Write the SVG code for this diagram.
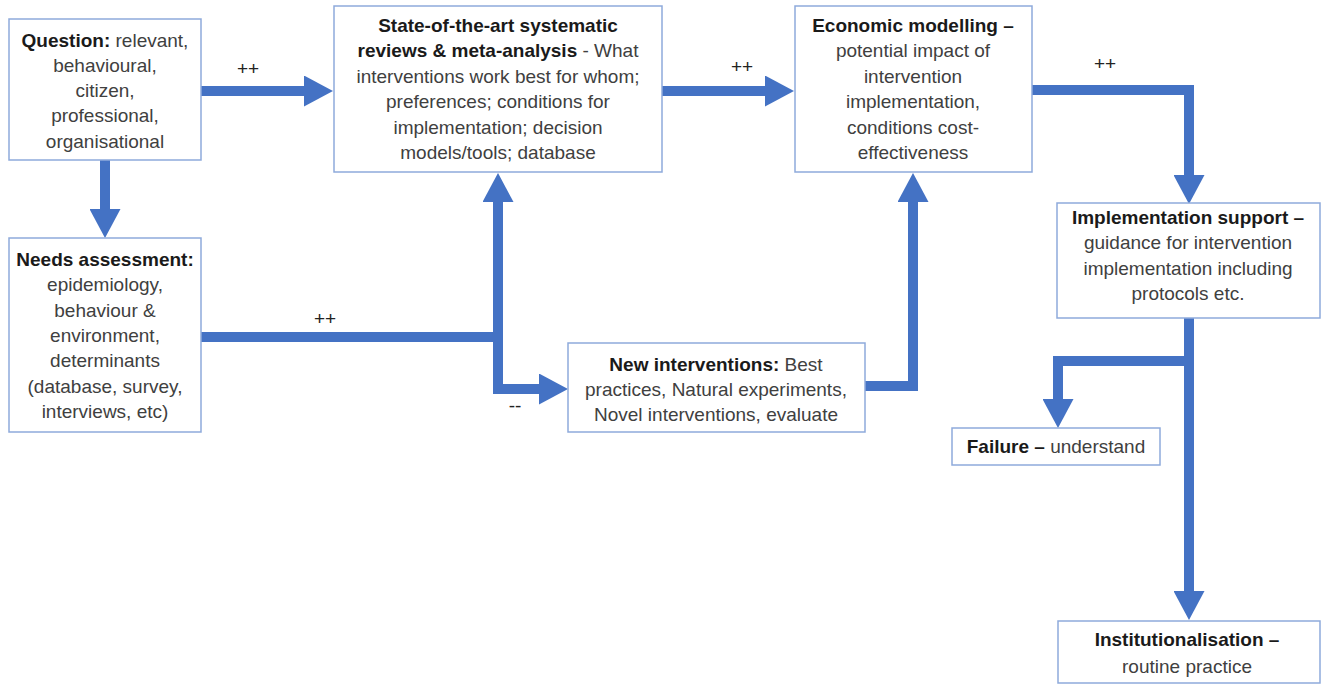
<svg xmlns="http://www.w3.org/2000/svg" width="1321" height="685" viewBox="0 0 1321 685">
<style>
.box{fill:#ffffff;stroke:#8eaadb;stroke-width:1.5}
.t{font-family:"Liberation Sans",Arial,sans-serif;font-size:19px;fill:#404040;text-anchor:middle}
.b{font-weight:bold;fill:#1a1a1a}
.lbl{font-family:"Liberation Sans",Arial,sans-serif;font-size:19px;fill:#222;text-anchor:middle}
.c{fill:none;stroke:#4472c4;stroke-width:10;stroke-linejoin:miter;marker-end:url(#ah)}
</style>
<defs>
<marker id="ah" markerUnits="userSpaceOnUse" viewBox="0 0 29 31" markerWidth="29" markerHeight="31" refX="0" refY="15.5" orient="auto-start-reverse">
<path d="M0,0 L29,15.5 L0,31 Z" fill="#4472c4"/>
</marker>
</defs>
<rect width="1321" height="685" fill="#ffffff"/>
<g id="connectors">
<path class="c" d="M201,91 H304"/>
<path class="c" d="M105,160 V209"/>
<path class="c" d="M662,91 H765"/>
<path class="c" d="M1032,90 H1189 V175"/>
<path class="c" d="M201,337 H503" style="marker-end:none"/>
<path class="c" d="M498,202 V389 H539" style="marker-start:url(#ah)"/>
<path class="c" d="M865,386 H913 V202"/>
<path class="c" d="M1189,318 V591"/>
<path class="c" d="M1194,361 H1058 V399"/>
<text class="lbl" x="248" y="75">++</text>
<text class="lbl" x="742" y="73">++</text>
<text class="lbl" x="1105" y="70">++</text>
<text class="lbl" x="325" y="325">++</text>
<text class="lbl" x="515" y="412">--</text>
</g>
<g id="question">
<rect class="box" x="9" y="19" width="192" height="141"/>
<text class="t" x="105" y="47"><tspan class="b">Question:</tspan> relevant,</text>
<text class="t" x="105" y="72">behavioural,</text>
<text class="t" x="105" y="97">citizen,</text>
<text class="t" x="105" y="122">professional,</text>
<text class="t" x="105" y="148">organisational</text>
</g>
<g id="needs">
<rect class="box" x="9" y="238" width="192" height="194"/>
<text class="t" x="105" y="266"><tspan class="b">Needs assessment:</tspan></text>
<text class="t" x="105" y="291">epidemiology,</text>
<text class="t" x="105" y="317">behaviour &amp;</text>
<text class="t" x="105" y="342">environment,</text>
<text class="t" x="105" y="367">determinants</text>
<text class="t" x="105" y="393">(database, survey,</text>
<text class="t" x="105" y="418">interviews, etc)</text>
</g>
<g id="reviews">
<rect class="box" x="334" y="6" width="328" height="166"/>
<text class="t" x="498" y="32"><tspan class="b">State-of-the-art systematic</tspan></text>
<text class="t" x="498" y="57"><tspan class="b">reviews &amp; meta-analysis</tspan> - What</text>
<text class="t" x="498" y="83">interventions work best for whom;</text>
<text class="t" x="498" y="108">preferences; conditions for</text>
<text class="t" x="498" y="134">implementation; decision</text>
<text class="t" x="498" y="159">models/tools; database</text>
</g>
<g id="economic">
<rect class="box" x="795" y="6" width="237" height="166"/>
<text class="t" x="913" y="32"><tspan class="b">Economic modelling –</tspan></text>
<text class="t" x="913" y="57">potential impact of</text>
<text class="t" x="913" y="83">intervention</text>
<text class="t" x="913" y="108">implementation,</text>
<text class="t" x="913" y="134">conditions cost-</text>
<text class="t" x="913" y="159">effectiveness</text>
</g>
<g id="new-interventions">
<rect class="box" x="568" y="343" width="297" height="89"/>
<text class="t" x="716" y="371"><tspan class="b">New interventions:</tspan> Best</text>
<text class="t" x="716" y="396">practices, Natural experiments,</text>
<text class="t" x="716" y="421">Novel interventions, evaluate</text>
</g>
<g id="implementation">
<rect class="box" x="1057" y="203" width="263" height="115"/>
<text class="t" x="1188" y="224"><tspan class="b">Implementation support –</tspan></text>
<text class="t" x="1188" y="249">guidance for intervention</text>
<text class="t" x="1188" y="275">implementation  including</text>
<text class="t" x="1188" y="300">protocols etc.</text>
</g>
<g id="failure">
<rect class="box" x="952" y="428" width="208" height="37"/>
<text class="t" x="1056" y="453"><tspan class="b">Failure –</tspan> understand</text>
</g>
<g id="institutionalisation">
<rect class="box" x="1058" y="621" width="262" height="62"/>
<text class="t" x="1187" y="646"><tspan class="b">Institutionalisation –</tspan></text>
<text class="t" x="1187" y="673">routine practice</text>
</g>
</svg>
